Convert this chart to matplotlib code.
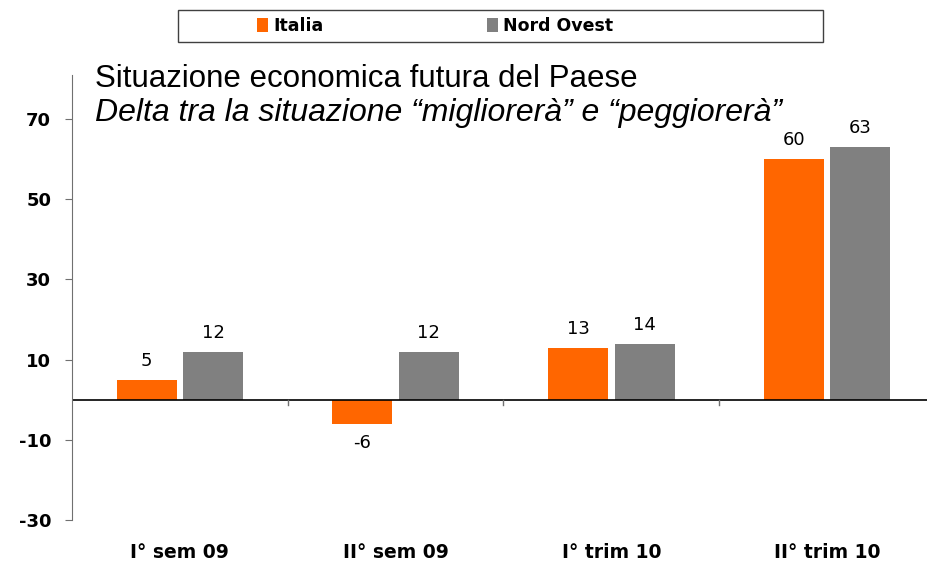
import numpy as np
import matplotlib.pyplot as plt
from matplotlib.patches import Rectangle

# Data.
categories = ["I° sem 09", "II° sem 09", "I° trim 10", "II° trim 10"]
italia = [5, -6, 13, 60]
nord_ovest = [12, 12, 14, 63]
y_ticks = [-30, -10, 10, 30, 50, 70]

orange = "#FF6600"
grey = "#808080"

fig = plt.figure(figsize=(9.28, 5.63), dpi=100)
ax = fig.add_axes([72 / 928, 43 / 563, 863 / 928, 445 / 563])

x = np.arange(len(categories))
w = 0.278
off = 0.154
b1 = ax.bar(x - off, italia, w, color=orange, label="Italia")
b2 = ax.bar(x + off, nord_ovest, w, color=grey, label="Nord Ovest")

# Value labels above/below bars.
for bars, vals in [(b1, italia), (b2, nord_ovest)]:
    for bar, v in zip(bars, vals):
        cx = bar.get_x() + bar.get_width() / 2
        if v >= 0:
            ax.annotate(str(v), (cx, v), xytext=(0, 7), textcoords="offset points",
                        ha="center", va="bottom", fontsize=13, family="DejaVu Sans")
        else:
            ax.annotate(str(v), (cx, v), xytext=(0, -7), textcoords="offset points",
                        ha="center", va="top", fontsize=13, family="DejaVu Sans")

ax.set_xlim(-0.5, 3.5)
ax.set_ylim(-30, 81)

# Axes styling.
for side in ["top", "right", "bottom"]:
    ax.spines[side].set_visible(False)
ax.spines["left"].set_color("#707070")
ax.axhline(0, color="black", lw=1.2)

ax.set_yticks(y_ticks)
ax.set_yticklabels([str(t) for t in y_ticks], fontsize=13, fontweight="bold",
                   family="DejaVu Sans")
ax.tick_params(axis="y", length=5, color="#707070", pad=10)

# Category labels along the bottom, boundary ticks on the zero line.
ax.set_xticks([])
for i, c in enumerate(categories):
    ax.text(i, -38, c, ha="center", va="center", fontsize=13.5, fontweight="bold",
            family="DejaVu Sans")
for b in [0.5, 1.5, 2.5]:
    ax.plot([b, b], [0, -1.3], color="#707070", lw=1, clip_on=False)

# Title block.
fig.text(95 / 928, 1 - 87 / 563, "Situazione economica futura del Paese",
         fontsize=22.5, family="Liberation Sans", va="baseline", ha="left")
fig.text(95 / 928, 1 - 121 / 563, "Delta tra la situazione \u201cmigliorer\u00e0\u201d e \u201cpeggiorer\u00e0\u201d",
         fontsize=23, family="Liberation Sans", style="italic", va="baseline", ha="left")

# Legend with a plain rectangular frame.
fig.patches.append(Rectangle((178 / 928, 1 - 42 / 563), 645 / 928, 32 / 563,
                             transform=fig.transFigure, fill=False, edgecolor="#404040", lw=1))
leg = fig.legend(handles=[b1, b2], loc="center left", bbox_to_anchor=(257 / 928, 1 - 26 / 563),
                 ncol=2, frameon=False, borderpad=0, borderaxespad=0,
                 handlelength=0.65, handleheight=0.85, handletextpad=0.3,
                 columnspacing=9.4, prop={"weight": "bold", "size": 12.5, "family": "DejaVu Sans"})

fig.savefig("out.png", dpi=100)
